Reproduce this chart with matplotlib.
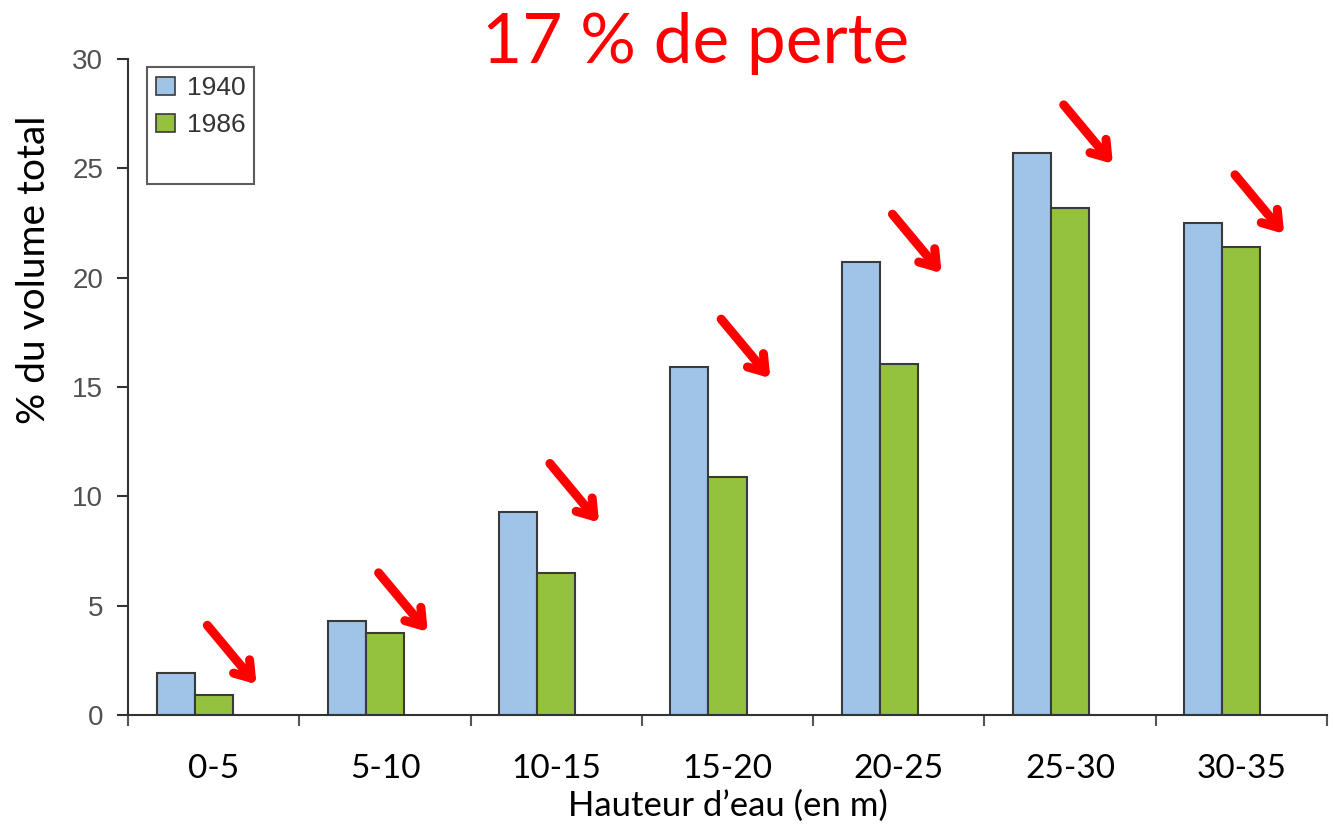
import matplotlib
matplotlib.use("Agg")
import matplotlib.pyplot as plt
import numpy as np
from matplotlib.patches import Patch

categories = ["0-5", "5-10", "10-15", "15-20", "20-25", "25-30", "30-35"]
v1940 = [1.9, 4.3, 9.3, 15.9, 20.7, 25.7, 22.5]
v1986 = [0.9, 3.75, 6.5, 10.9, 16.05, 23.2, 21.4]
yticks = [0, 5, 10, 15, 20, 25, 30]

blue = "#A0C4E8"
green = "#94C13E"
edge = "#3a3a3a"

fig = plt.figure(figsize=(13.35, 8.3), dpi=100)
ax = fig.add_axes([0.0959, 0.1386, 0.8981, 0.7904])

x = np.arange(len(categories))
w = 0.222
ax.bar(x - w, v1940, width=w, color=blue, edgecolor=edge, linewidth=1.5, label="1940")
ax.bar(x, v1986, width=w, color=green, edgecolor=edge, linewidth=1.5, label="1986")

ax.set_xlim(-0.5, len(categories) - 0.5)
ax.set_ylim(0, 30)
for s in ["top", "right"]:
    ax.spines[s].set_visible(False)
for s in ["left", "bottom"]:
    ax.spines[s].set_color("#333333")
    ax.spines[s].set_linewidth(1.5)

ax.set_yticks(yticks)
ax.set_yticklabels([str(t) for t in yticks], fontsize=20, color="#505050",
                   family="Liberation Sans")
ax.tick_params(axis="y", length=8, width=1.5, color="#333333", pad=10)

ax.set_xticks(x)
ax.set_xticklabels(categories, fontsize=24, family="Lato", color="black")
ax.tick_params(axis="x", which="major", length=0, pad=28)
ax.set_xticks(np.arange(len(categories) + 1) - 0.5, minor=True)
ax.tick_params(axis="x", which="minor", length=8, width=1.5, color="#555555")

ax.set_ylabel("% du volume total", fontsize=28, family="Lato")
ax.yaxis.set_label_coords(-0.063, 0.678)
ax.set_xlabel("Hauteur d\u2019eau (en m)", fontsize=25, family="Lato", labelpad=4)

handles = [Patch(facecolor=blue, edgecolor=edge, linewidth=1.2, label="1940"),
           Patch(facecolor=green, edgecolor=edge, linewidth=1.2, label="1986"),
           Patch(facecolor="none", edgecolor="none", label=" ")]
leg = ax.legend(handles=handles, loc="upper left", bbox_to_anchor=(0.0158, 0.988),
                borderaxespad=0, fancybox=False, frameon=True,
                prop={"family": "Liberation Sans", "size": 19},
                handlelength=0.7, handleheight=0.7, handletextpad=0.45,
                labelspacing=0.5, borderpad=0.35, labelcolor="#333333")
leg.get_frame().set_edgecolor("#333333")
leg.get_frame().set_linewidth(1.5)

for i, v in enumerate(v1940):
    tip = (i + 0.25, v - 0.5)
    tail = (tip[0] - 0.287, tip[1] + 2.7)
    ax.annotate("", xy=tip, xytext=tail,
                arrowprops=dict(arrowstyle="->,head_length=1.1,head_width=0.75",
                                color="#FF0000", lw=6.5, shrinkA=0, shrinkB=0))

fig.text(0.521, 0.948, "17 % de perte", color="#FF0000", fontsize=50,
         family="Lato", ha="center", va="center")

fig.savefig("out.png", dpi=100)
